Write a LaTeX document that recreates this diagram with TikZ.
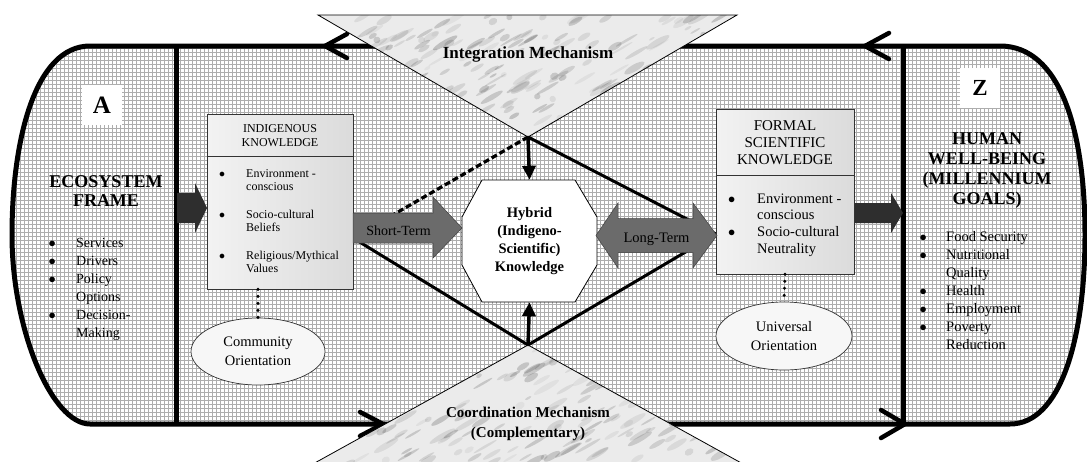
\documentclass[tikz,border=0pt]{standalone}
\usepackage{fontspec}
\setmainfont{Liberation Serif}
\usetikzlibrary{arrows.meta,shapes.geometric,calc}
\newcommand{\setfs}[2]{\fontsize{#1}{#2}\selectfont}
\newcommand{\bul}{\makebox[0pt][l]{$\bullet$}}

\begin{document}
\begin{tikzpicture}[x=1pt,y=-1pt,
  frameline/.style={line width=5pt},
  gridline/.style={black!32, line width=0.5pt},
  chevron/.style={line width=4.5pt, line cap=round, line join=round},
  kbox/.style={draw=black!80, line width=0.7pt, left color=black!5, right color=black!14, inner sep=0pt},
  orient/.style={ellipse, draw=black!80, line width=0.7pt, fill=black!3, inner sep=0pt,
                 align=center, font=\setfs{14.5}{18.5}},
  linkdash/.style={line width=3.2pt, dash pattern=on 6pt off 3pt},
  linksolid/.style={line width=3pt},
  vertarrow/.style={line width=3.5pt, -{Triangle[length=14pt,width=13pt]}},
  dotlink/.style={line width=3.3pt, line cap=round, dash pattern=on 0pt off 7pt},
  blockarrow/.style={fill=black!58, draw=black!75, line width=0.5pt},
  darkarrow/.style={fill=black!82},
  mech/.style={draw=black, line width=0.8pt},
  letterbox/.style={fill=white, minimum size=40pt, inner sep=0pt, font=\bfseries\setfs{25}{25}}
]
\useasboundingbox (0,0) rectangle (1087,461);
\fill[white] (0,0) rectangle (1087,461);

% ---- gridded frame -------------------------------------------------------
\begin{scope}
  \clip (90,46) -- (1000,46) .. controls (1060,46) and (1085,130) .. (1085,235)
        .. controls (1085,340) and (1060,424) .. (1010,424) -- (90,424)
        .. controls (52,424) and (12,330) .. (12,235)
        .. controls (12,140) and (35,46) .. (90,46) -- cycle;
  \draw[gridline] foreach \gx in {0,4,...,1088} {(\gx,0) -- (\gx,461)};
  \draw[gridline] foreach \gy in {0,4,...,460} {(0,\gy) -- (1087,\gy)};
\end{scope}
\draw[frameline] (90,46) -- (1000,46) .. controls (1060,46) and (1085,130) .. (1085,235)
        .. controls (1085,340) and (1060,424) .. (1010,424) -- (90,424)
        .. controls (52,424) and (12,330) .. (12,235)
        .. controls (12,140) and (35,46) .. (90,46) -- cycle;
\draw[frameline] (176,46) -- (176,424);
\draw[frameline] (903,46) -- (903,424);

% flow direction marks on the frame
\draw[chevron] (347,34) -- (325,46) -- (347,58);
\draw[chevron] (889,33) -- (865,46) -- (889,59);
\draw[chevron] (360,412) -- (383,424) -- (360,436);
\draw[chevron] (881,410) -- (905,424) -- (881,438);

% ---- mechanism triangles (marbled) --------------------------------------
\begin{scope}
  \clip (318,15) -- (737,15) -- (528,137) -- cycle;
  \fill[black!8] (300,0) rectangle (760,140);
  \pgfmathsetseed{11}
  \foreach \k in {1,...,260}{
    \pgfmathsetmacro{\cx}{318+420*rnd}
    \pgfmathsetmacro{\cy}{15+122*rnd}
    \pgfmathsetmacro{\ra}{3+12*rnd}
    \pgfmathsetmacro{\rb}{1+2.5*rnd}
    \pgfmathsetmacro{\op}{0.04+0.14*rnd}
    \fill[black, opacity=\op, rotate around={30:(\cx,\cy)}] (\cx,\cy) ellipse [x radius=\ra, y radius=\rb];
  }
\end{scope}
\draw[mech] (318,15) -- (737,15) -- (528,137) -- cycle;

\begin{scope}
  \clip (528,345) -- (763,475) -- (293,475) -- cycle;
  \fill[black!8] (280,340) rectangle (780,475);
  \pgfmathsetseed{23}
  \foreach \k in {1,...,230}{
    \pgfmathsetmacro{\cx}{300+460*rnd}
    \pgfmathsetmacro{\cy}{345+120*rnd}
    \pgfmathsetmacro{\ra}{3+12*rnd}
    \pgfmathsetmacro{\rb}{1+2.5*rnd}
    \pgfmathsetmacro{\op}{0.04+0.14*rnd}
    \fill[black, opacity=\op, rotate around={30:(\cx,\cy)}] (\cx,\cy) ellipse [x radius=\ra, y radius=\rb];
  }
\end{scope}
\draw[mech] (763,475) -- (528,345) -- (293,475);

\coordinate (topapex) at (528,137);
\coordinate (botapex) at (528,345);
\coordinate (ikjoin)  at (353,238);
\coordinate (fskjoin) at (716,234);

% ---- diamond of links --------------------------------------------------
\draw[linkdash]  (topapex) -- (ikjoin);
\draw[linksolid] (topapex) -- (fskjoin);
\draw[linksolid] (botapex) -- (ikjoin);
\draw[linksolid] (botapex) -- (fskjoin);

% ---- knowledge boxes ---------------------------------------------------
\node[kbox, minimum width=146pt, minimum height=175pt] (ik) at (280,201.5) {};
\draw[line width=0.7pt, black!80] (ik.west |- 0,156) -- (ik.east |- 0,156);
\node[kbox, minimum width=138pt, minimum height=165pt] (fsk) at (785,191.5) {};
\draw[line width=0.7pt, black!80] (fsk.west |- 0,175) -- (fsk.east |- 0,175);

\node[align=center, font=\setfs{12}{14.5}] (ikhead) at (280,135.5) {INDIGENOUS\\KNOWLEDGE};
\node[align=center, font=\setfs{15}{16.8}] (fskhead) at (785,142.5) {FORMAL\\SCIENTIFIC\\KNOWLEDGE};

\node[anchor=north west, inner sep=0pt, font=\setfs{12}{13.5}] (iklist) at (219,167.5)
  {\begin{tabular}{@{}p{27pt}@{}l@{}}
   \bul & Environment -\\
        & conscious\\[14pt]
   \bul & Socio-cultural\\
        & Beliefs\\[14pt]
   \bul & Religious/Mythical\\
        & Values
   \end{tabular}};
\node[anchor=north west, inner sep=0pt, font=\setfs{14.5}{16.7}] (fsklist) at (728,191.3)
  {\begin{tabular}{@{}p{29pt}@{}l@{}}
   \bul & Environment -\\
        & conscious\\
   \bul & Socio-cultural\\
        & Neutrality
   \end{tabular}};

% ---- orientations ------------------------------------------------------
\node[orient, minimum width=134pt, minimum height=67pt] (comm) at (258,351.5) {Community\\Orientation};
\node[orient, minimum width=136pt, minimum height=68pt] (univ) at (784,336) {Universal\\Orientation};
\draw[dotlink] (comm.north |- ik.south) -- (comm.north);
\draw[dotlink] (fsk.south) -- (univ.north);

% ---- hybrid knowledge --------------------------------------------------
\fill[white] (482,180) -- (575,180) -- (597,217) -- (597,265) -- (575,302)
             -- (482,302) -- (462,265) -- (462,217) -- cycle;
\draw[line width=0.8pt] (482,180) -- (575,180) -- (597,217) -- (597,265) -- (575,302)
             -- (482,302) -- (462,265) -- (462,217) -- cycle;
\node[minimum width=135pt, minimum height=122pt, inner sep=0pt, align=center,
      font=\bfseries\setfs{14.5}{17.8}] (hyb) at (529.5,241)
  {Hybrid\\(Indigeno-\\Scientific)\\Knowledge};
\draw[vertarrow] (topapex) -- (hyb.north);
\draw[vertarrow] (botapex) -- (hyb.south);

% ---- block arrows ------------------------------------------------------
\coordinate (stA) at (353,228);
\coordinate (stB) at (462,228);
\draw[blockarrow] ($(stA)+(0,-15)$) -- ($(stB)+(-29,-15)$) -- ($(stB)+(-29,-31)$) -- (stB)
  -- ($(stB)+(-29,30)$) -- ($(stB)+(-29,15)$) -- ($(stA)+(0,15)$) -- cycle;
\node[font=\setfs{14}{16}, anchor=base] (stlabel) at (398.5,235) {Short-Term};

\coordinate (ltA) at (596,235.5);
\coordinate (ltB) at (717,235.5);
\draw[blockarrow] (ltA) -- ($(ltA)+(22,-32.5)$) -- ($(ltA)+(22,-17)$) -- ($(ltB)+(-24,-17)$)
  -- ($(ltB)+(-24,-32.5)$) -- (ltB) -- ($(ltB)+(-24,32.5)$) -- ($(ltB)+(-24,17)$)
  -- ($(ltA)+(22,17)$) -- ($(ltA)+(22,32.5)$) -- cycle;
\node[font=\setfs{14.5}{16}, anchor=base] (ltlabel) at (656.5,242) {Long-Term};

\coordinate (ecoA) at (177,208);
\coordinate (ecoB) at (207,208);
\fill[darkarrow] ($(ecoA)+(0,-15)$) -- ($(ecoB)+(-12,-15)$) -- ($(ecoB)+(-12,-25)$) -- (ecoB)
  -- ($(ecoB)+(-12,25)$) -- ($(ecoB)+(-12,15)$) -- ($(ecoA)+(0,15)$) -- cycle;

\coordinate (hwA) at (855,213);
\coordinate (hwB) at (903,213);
\fill[darkarrow] ($(hwA)+(0,-10)$) -- ($(hwB)+(-12,-10)$) -- ($(hwB)+(-12,-20)$) -- (hwB)
  -- ($(hwB)+(-12,20)$) -- ($(hwB)+(-12,10)$) -- ($(hwA)+(0,10)$) -- cycle;

% ---- mechanism labels --------------------------------------------------
\node[font=\bfseries\setfs{17}{20}, anchor=base] (integ) at (528,58) {Integration Mechanism};
\node[font=\bfseries\setfs{15}{19.5}, align=center] (coord) at (528,424)
  {Coordination Mechanism\\(Complementary)};

% ---- end panels --------------------------------------------------------
\node[letterbox] (lblA) at (102,105) {A};
\node[letterbox, font=\bfseries\setfs{23}{23}] (lblZ) at (980,88) {Z};

\node[align=center, font=\bfseries\setfs{18}{19}] (eco) at (106,191.5) {ECOSYSTEM\\FRAME};
\node[align=center, font=\bfseries\setfs{18}{20}] (hwb) at (987,170) {HUMAN\\WELL-BEING\\(MILLENNIUM\\GOALS)};

\node[anchor=north west, inner sep=0pt, font=\setfs{14}{18}] (ecolist) at (48.5,234.4)
  {\begin{tabular}{@{}p{27.5pt}@{}l@{}}
   \bul & Services\\
   \bul & Drivers\\
   \bul & Policy\\
        & Options\\
   \bul & Decision-\\
        & Making
   \end{tabular}};
\node[anchor=north west, inner sep=0pt, font=\setfs{14.5}{18}] (hwlist) at (919.5,228.4)
  {\begin{tabular}{@{}p{26.5pt}@{}l@{}}
   \bul & Food Security\\
   \bul & Nutritional\\
        & Quality\\
   \bul & Health\\
   \bul & Employment\\
   \bul & Poverty\\
        & Reduction
   \end{tabular}};
\end{tikzpicture}
\end{document}
